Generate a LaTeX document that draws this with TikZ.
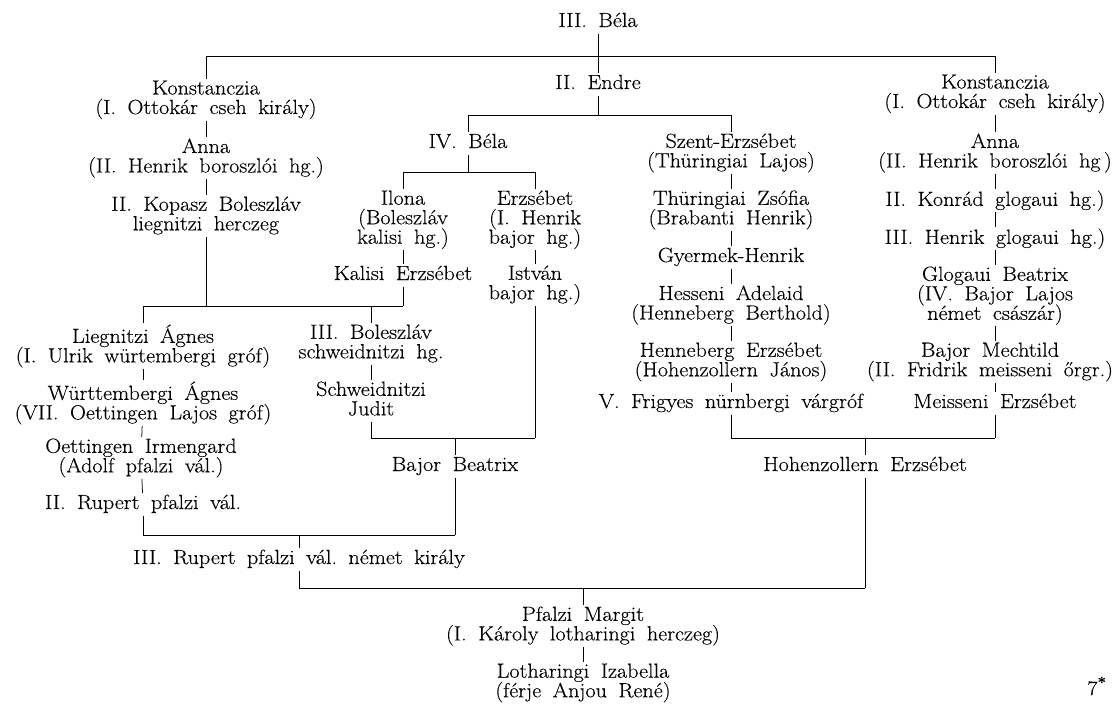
\documentclass[tikz,border=0pt]{standalone}
\usepackage{fontspec}
% wide, slightly heavier roman for the table
\newfontfamily\tabface{Latin Modern Roman}[FakeStretch=1.08, FakeBold=0.25]
% table type: tight leading, wide word spaces
\newcommand\tabfont{\tabface\fontsize{20.5}{19.5}\selectfont\lineskiplimit=-100pt\frenchspacing
  \spaceskip=11.5pt plus 2pt minus 1pt\xspaceskip=\spaceskip}
% fixed line height/depth so every entry hangs the same way
\newcommand\lst{\rule[-5pt]{0pt}{19.5pt}}
\tikzset{
  pn/.style={anchor=north, align=center, inner xsep=0pt, inner ysep=1.5pt,
    outer sep=0pt, font=\tabfont, execute at begin node=\lst, execute at end node=\lst},
  ln/.style={line width=0.75pt, black}
}
\begin{document}
\begin{tikzpicture}[x=1pt, y=-1pt]
\useasboundingbox (0,0) rectangle (1118,705);

% ---- entries
\node[pn] (bela)    at (598,11)  {III. Béla};
\node[pn] (kL)      at (206,79)  {Konstanczia\\(I. Ottokár cseh király)};
\node[pn] (endre)   at (598,73)  {II. Endre};
\node[pn] (kR)      at (995,73)  {Konstanczia\\(I. Ottokár cseh király)};
\node[pn] (annaL)   at (206,137) {Anna\\(II. Henrik boroszlói hg.)};
\node[pn] (kopasz)  at (206,195) {II. Kopasz Boleszláv\\liegnitzi herczeg};
\node[pn] (bela4)   at (468,132) {IV. Béla};
\node[pn] (szent)   at (731,132) {Szent-Erzsébet\\(Thüringiai Lajos)};
\node[pn] (annaR)   at (995,132) {Anna\\(II. Henrik boroszlói hg\,)};
\node[pn] (ilona)   at (403,189) {Ilona\\(Boleszláv\\kalisi hg.)};
\node[pn] (erzs)    at (535,189) {Erzsébet\\(I. Henrik\\bajor hg.)};
\node[pn] (zsofia)  at (731,189) {Thüringiai Zsófia\\(Brabanti Henrik)};
\node[pn] (konrad)  at (995,189) {II. Konrád glogaui hg.)};
\node[pn] (henrik3) at (995,227) {III. Henrik glogaui hg.)};
\node[pn] (gyermek) at (731,246) {Gyermek-Henrik};
\node[pn] (kalisi)  at (403,264) {Kalisi Erzsébet};
\node[pn] (istvan)  at (535,264) {István\\bajor hg.)};
\node[pn] (glogaui) at (995,265) {Glogaui Beatrix\\(IV. Bajor Lajos\\német császár)};
\node[pn] (hesseni) at (731,284) {Hesseni Adelaid\\(Henneberg Berthold)};
\node[pn] (liegn)   at (143,323) {Liegnitzi Ágnes\\(I. Ulrik würtembergi gróf)};
\node[pn] (bolesz)  at (371,323) {III. Boleszláv\\schweidnitzi hg.};
\node[pn] (henneb)  at (731,341) {Henneberg Erzsébet\\(Hohenzollern János)};
\node[pn] (mecht)   at (990,341) {Bajor Mechtild\\(II. Fridrik meisseni őrgr.)};
\node[pn] (wurt)    at (143,380) {Württembergi Ágnes\\(VII. Oettingen Lajos gróf)};
\node[pn] (schweid) at (371,380) {Schweidnitzi\\Judit};
\node[pn] (frigyes) at (731,392) {V. Frigyes nürnbergi várgróf};
\node[pn] (meiss)   at (995,392) {Meisseni Erzsébet};
\node[pn] (oett)    at (141,437) {Oettingen Irmengard\\(Adolf pfalzi vál.)};
\node[pn] (beatrix) at (455,455) {Bajor Beatrix};
\node[pn] (hohenz)  at (865,455) {Hohenzollern Erzsébet};
\node[pn] (rupert2) at (143,493) {II. Rupert pfalzi vál.};
\node[pn] (rupert3) at (299,548) {III. Rupert pfalzi vál. német király};
\node[pn] (pfalzi)  at (583,605) {Pfalzi Margit\\(I. Károly lotharingi herczeg)};
\node[pn] (lothar)  at (583,662) {Lotharingi Izabella\\(férje Anjou René)};
\node[font=\tabfont, anchor=base, inner sep=0pt] (pg) at (1097,695) {7\textsuperscript{\bfseries *}};

% ---- heights of the cross bars
\coordinate (tb) at (0,56);
\coordinate (eb) at (0,115);
\coordinate (bb) at (0,172);
\coordinate (lb) at (0,306);
\coordinate (jb) at (0,438);
\coordinate (rb) at (0,535);
\coordinate (pb) at (0,588);

% ---- III. Béla and his children
\draw[ln] (bela) -- (bela |- tb);
\draw[ln] (kL |- tb) -- (kR |- tb);
\draw[ln] (kL |- tb) -- (kL);
\draw[ln] (endre |- tb) -- (endre);
\draw[ln] (kR |- tb) -- (kR);

% ---- left line: Konstanczia
\draw[ln] (kL) -- (annaL);
\draw[ln] (annaL) -- (kopasz);

% ---- II. Endre
\draw[ln] (endre) -- (endre |- eb);
\draw[ln] (bela4 |- eb) -- (szent |- eb);
\draw[ln] (bela4 |- eb) -- (bela4);
\draw[ln] (szent |- eb) -- (szent);

% ---- IV. Béla
\draw[ln] (bela4) -- (bela4 |- bb);
\draw[ln] (ilona |- bb) -- (erzs |- bb);
\draw[ln] (ilona |- bb) -- (ilona);
\draw[ln] (erzs |- bb) -- (erzs);
\draw[ln] (ilona) -- (kalisi);
\draw[ln] (erzs) -- (istvan);

% ---- Kopasz Boleszláv + Kalisi Erzsébet
\draw[ln] (kopasz) -- (kopasz |- lb);
\draw[ln] (kalisi) -- (kalisi |- lb);
\draw[ln] (liegn |- lb) -- (kalisi |- lb);
\draw[ln] (liegn |- lb) -- (liegn);
\draw[ln] (bolesz |- lb) -- (bolesz);
\draw[ln] (liegn) -- (wurt);
\draw[ln] (wurt) -- (oett);
\draw[ln] (oett) -- (rupert2);
\draw[ln] (bolesz) -- (schweid);

% ---- Judit + István
\draw[ln] (schweid) -- (schweid |- jb);
\draw[ln] (istvan) -- (istvan |- jb);
\draw[ln] (schweid |- jb) -- (istvan |- jb);
\draw[ln] (beatrix |- jb) -- (beatrix);

% ---- Szent-Erzsébet line
\draw[ln] (szent) -- (zsofia);
\draw[ln] (zsofia) -- (gyermek);
\draw[ln] (gyermek) -- (hesseni);
\draw[ln] (hesseni) -- (henneb);
\draw[ln] (henneb) -- (frigyes);

% ---- right line: Konstanczia
\draw[ln] (kR) -- (annaR);
\draw[ln] (annaR) -- (konrad);
\draw[ln] (konrad) -- (henrik3);
\draw[ln] (henrik3) -- (glogaui);
\draw[ln] (glogaui) -- (glogaui |- mecht.north);
\draw[ln] (glogaui |- mecht.south) -- (meiss);

% ---- Frigyes + Meisseni Erzsébet
\draw[ln] (frigyes) -- (frigyes |- jb);
\draw[ln] (meiss) -- (meiss |- jb);
\draw[ln] (frigyes |- jb) -- (meiss |- jb);
\draw[ln] (hohenz |- jb) -- (hohenz);

% ---- II. Rupert + Bajor Beatrix
\draw[ln] (rupert2) -- (rupert2 |- rb);
\draw[ln] (beatrix) -- (beatrix |- rb);
\draw[ln] (rupert2 |- rb) -- (beatrix |- rb);
\draw[ln] (rupert3 |- rb) -- (rupert3);

% ---- III. Rupert + Hohenzollern Erzsébet
\draw[ln] (rupert3) -- (rupert3 |- pb);
\draw[ln] (hohenz) -- (hohenz |- pb);
\draw[ln] (rupert3 |- pb) -- (hohenz |- pb);
\draw[ln] (pfalzi |- pb) -- (pfalzi);
\draw[ln] (pfalzi) -- (lothar);
\end{tikzpicture}
\end{document}
